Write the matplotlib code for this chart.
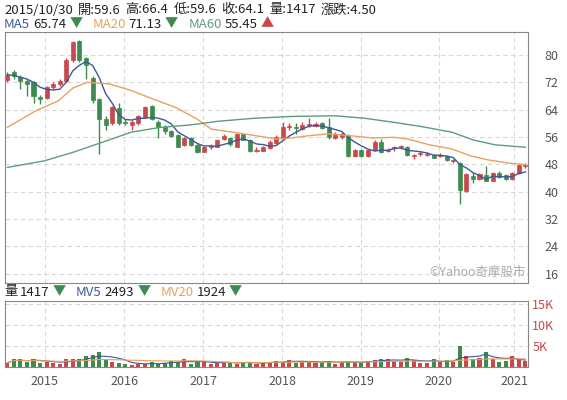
import numpy as np
import pandas as pd
import matplotlib.pyplot as plt

plt.rcParams['font.family'] = ['Noto Sans CJK TC', 'DejaVu Sans']

# monthly candles, Jul 2014 .. Feb 2021
opens = [72.6, 75.0, 73.5, 72.3, 72.0, 67.7, 67.4, 70.5, 71.5, 72.3, 78.5, 84.0, 79.0, 73.3, 67.0, 61.3,
         60.0, 64.5, 60.5, 59.6, 60.0, 61.8, 65.0, 60.5, 58.8, 57.7, 56.6, 53.8, 55.6, 53.6, 51.7, 53.0,
         53.2, 55.5, 55.6, 53.2, 56.8, 55.1, 52.0, 52.0, 52.8, 54.3, 55.7, 59.0, 58.8, 58.3, 59.6, 59.3,
         60.0, 59.0, 55.7, 55.9, 56.3, 50.5, 52.2, 50.3, 52.2, 54.4, 52.0, 52.8, 53.0, 53.2, 50.5, 51.0,
         50.8, 50.8, 50.5, 50.4, 49.0, 48.3, 40.1, 44.7, 43.7, 45.0, 43.2, 45.5, 44.8, 43.7, 45.4, 47.5]
closes = [74.2, 73.8, 72.3, 71.5, 68.1, 67.0, 70.7, 71.5, 72.5, 78.5, 83.7, 78.6, 77.0, 66.8, 61.3, 59.6,
          64.7, 60.0, 60.0, 60.5, 62.0, 64.9, 61.3, 58.8, 57.7, 56.4, 53.2, 55.6, 53.6, 51.5, 53.0, 53.3,
          55.0, 56.3, 53.9, 56.9, 55.1, 51.8, 52.1, 53.0, 54.5, 56.0, 58.8, 59.1, 58.5, 59.5, 59.8, 59.8,
          58.5, 55.9, 56.9, 57.0, 50.5, 52.2, 50.3, 52.2, 54.4, 51.5, 52.1, 52.9, 53.1, 50.8, 50.6, 51.1,
          50.9, 50.0, 50.6, 49.4, 49.1, 40.5, 45.2, 43.7, 45.2, 43.2, 45.4, 44.4, 43.6, 45.5, 47.8, 47.6]
highs = [75.0, 75.5, 74.0, 73.0, 72.5, 68.3, 71.0, 72.0, 73.0, 79.0, 84.2, 84.5, 79.5, 73.8, 67.5, 62.0,
         65.0, 66.0, 61.2, 61.0, 62.5, 65.2, 65.3, 61.0, 59.5, 58.0, 57.0, 56.0, 56.0, 54.0, 53.5, 54.0,
         55.5, 57.0, 56.0, 57.3, 57.0, 55.5, 53.0, 53.5, 55.0, 56.5, 60.5, 60.0, 60.0, 60.5, 61.5, 60.5,
         60.5, 61.5, 57.5, 57.5, 56.8, 52.5, 52.6, 52.5, 55.0, 55.5, 52.8, 53.5, 53.6, 53.5, 51.0, 51.8,
         51.5, 51.0, 51.2, 50.8, 49.5, 48.8, 45.5, 45.5, 45.6, 47.5, 45.8, 46.0, 45.2, 45.8, 48.0, 48.3]
lows = [72.0, 73.0, 70.0, 68.0, 66.0, 65.5, 67.0, 70.0, 71.0, 72.0, 78.0, 78.0, 73.0, 66.0, 51.0, 58.0,
        59.5, 59.5, 59.5, 58.0, 59.5, 61.5, 61.0, 55.8, 57.0, 56.0, 53.0, 53.5, 53.3, 51.2, 51.5, 52.5,
        53.0, 55.2, 53.5, 53.0, 55.0, 51.5, 51.5, 51.8, 52.5, 54.0, 55.5, 58.0, 57.0, 58.0, 59.0, 59.0,
        58.2, 55.5, 55.5, 55.5, 50.2, 50.2, 50.0, 50.0, 52.0, 51.2, 51.5, 52.0, 52.5, 50.5, 49.5, 50.5,
        50.3, 49.8, 50.0, 49.0, 48.5, 36.5, 40.0, 42.5, 43.5, 43.0, 43.0, 44.0, 43.4, 43.5, 45.2, 47.0]
vols = [1.0, 2.0, 1.8, 1.2, 1.8, 1.0, 1.3, 1.0, 0.8, 1.8, 2.0, 2.0, 2.5, 2.8, 3.5, 1.8,
        1.2, 1.0, 0.8, 0.5, 0.8, 0.6, 1.2, 0.8, 1.0, 1.5, 1.2, 1.8, 0.8, 1.2, 1.4, 0.6,
        1.0, 1.2, 1.2, 0.8, 1.0, 1.3, 0.6, 1.0, 1.3, 1.5, 1.3, 1.6, 1.0, 1.4, 1.2, 1.0,
        1.3, 1.5, 0.8, 1.2, 1.3, 1.1, 1.2, 1.5, 1.6, 2.0, 1.8, 1.4, 1.3, 2.2, 1.6, 1.0,
        1.0, 1.8, 1.2, 1.6, 1.2, 5.0, 2.5, 2.0, 2.2, 3.5, 2.0, 1.1, 1.4, 2.6, 1.8, 1.4]

ma20_idx = [0, 4.4, 7.8, 10, 12.2, 15.6, 18.9, 22.2, 25.6, 28.9, 31.1, 34.4, 37.8, 41.1, 43.3, 46.1,
            48.9, 52.2, 55.6, 58.9, 61.1, 64.4, 67.8, 70.6, 73.3, 76.7, 79]
ma20 = [58.8, 63.7, 66.6, 70.3, 72.0, 71.5, 69.6, 67.1, 64.7, 61.3, 58.3, 57.4, 56.4, 55.4, 55.7, 56.4,
        56.9, 56.4, 55.7, 55.9, 55.4, 53.7, 52.5, 50.5, 49.3, 48.3, 47.9]
ma60_idx = [0, 5.6, 10, 14.4, 18.9, 23.3, 27.8, 32.2, 37.8, 43.3, 50, 54.4, 58.9, 63.3, 67.8, 71.1, 74.4, 79]
ma60 = [47.1, 49.0, 51.5, 54.4, 57.4, 58.8, 59.5, 60.6, 61.5, 62.0, 62.2, 61.5, 60.3, 59.0, 57.4, 55.1, 53.7, 53.0]

years = ['2015', '2016', '2017', '2018', '2019', '2020', '2021']
year_pos = [5.7, 17.8, 29.9, 41.9, 53.9, 65.8, 77.3]

RED, GREEN = '#c9484a', '#3f8a4e'
x = np.arange(len(opens))
o, c = np.array(opens), np.array(closes)
cols = [RED if cc >= oo else GREEN for oo, cc in zip(o, c)]
ma5 = pd.Series(closes).rolling(5, min_periods=1).mean()
v = pd.Series(vols)
mv5 = v.rolling(5, min_periods=1).mean()
mv20 = v.rolling(20, min_periods=1).mean()

fig = plt.figure(figsize=(5.67, 4), dpi=100)
ax = fig.add_axes([5/567, 1-283/400, 523/567, 251/400])
axv = fig.add_axes([5/567, 1-367/400, 523/567, 66/400])
xl = (-0.35, 79.4)

for a in (ax, axv):
    a.set_xlim(*xl)
    a.set_xticks(year_pos)
    a.grid(True, color='#d8d8d8', ls=(0, (4, 3)), lw=0.8)
    a.set_axisbelow(True)
    a.yaxis.tick_right()
    a.tick_params(length=0, labelsize=9, colors='#555555')
    for s in a.spines.values():
        s.set_color('#888888')

ax.vlines(x, lows, highs, color=cols, lw=1)
ax.bar(x, np.maximum(np.abs(c - o), 0.25), bottom=np.minimum(o, c), width=0.62, color=cols, edgecolor=cols, lw=0.5)
ax.plot(x, ma5, color='#3b5998', lw=1)
ax.plot(ma20_idx, ma20, color='#e8a25e', lw=1)
ax.plot(ma60_idx, ma60, color='#5e9c7c', lw=1)
ax.set_ylim(13.3, 86.7)
ax.set_yticks(range(16, 81, 8))
ax.set_xticklabels([])
ax.tick_params(axis='y', pad=12)
ax.text(0.995, 0.015, '©Yahoo奇摩股市', transform=ax.transAxes, ha='right', va='bottom', fontsize=9, color='#aaaaaa')

axv.bar(x, vols, width=0.62, color=cols)
axv.plot(x, mv5, color='#3b5998', lw=0.8)
axv.plot(x, mv20, color='#e8a25e', lw=0.8)
axv.set_ylim(0, 15.6)
axv.set_yticks([5, 10, 15])
axv.set_yticklabels(['5K', '10K', '15K'], color='#c9484a')
axv.set_xticklabels(years)
axv.tick_params(axis='x', pad=6)
axv.tick_params(axis='y', pad=3)

def row(y, parts):
    # parts: (text, colour, gap after in px)
    xx = 4
    r = fig.canvas.get_renderer()
    for s, col, gap in parts:
        t = fig.text(xx / 567, y, s, color=col, fontsize=9.5, va='center')
        xx += t.get_window_extent(r).width + gap

row(1 - 10/400, [('2015/10/30', '#222222', 5), ('開:59.6', '#222222', 5), ('高:66.4', '#222222', 5),
                 ('低:59.6', '#222222', 5), ('收:64.1', '#222222', 5), ('量:1417', '#222222', 5),
                 ('漲跌:4.50', '#222222', 0)])
row(1 - 24/400, [('MA5', '#3b5998', 3), ('65.74', '#222222', 3), ('▼', GREEN, 10),
                 ('MA20', '#e8a25e', 3), ('71.13', '#222222', 3), ('▼', GREEN, 10),
                 ('MA60', '#5e9c7c', 3), ('55.45', '#222222', 3), ('▲', RED, 0)])
row(1 - 292/400, [('量', '#222222', 3), ('1417', '#222222', 3), ('▼', GREEN, 10),
                  ('MV5', '#3b5998', 3), ('2493', '#222222', 3), ('▼', GREEN, 10),
                  ('MV20', '#e8a25e', 3), ('1924', '#222222', 3), ('▼', GREEN, 0)])

fig.savefig('out.png', dpi=100)
